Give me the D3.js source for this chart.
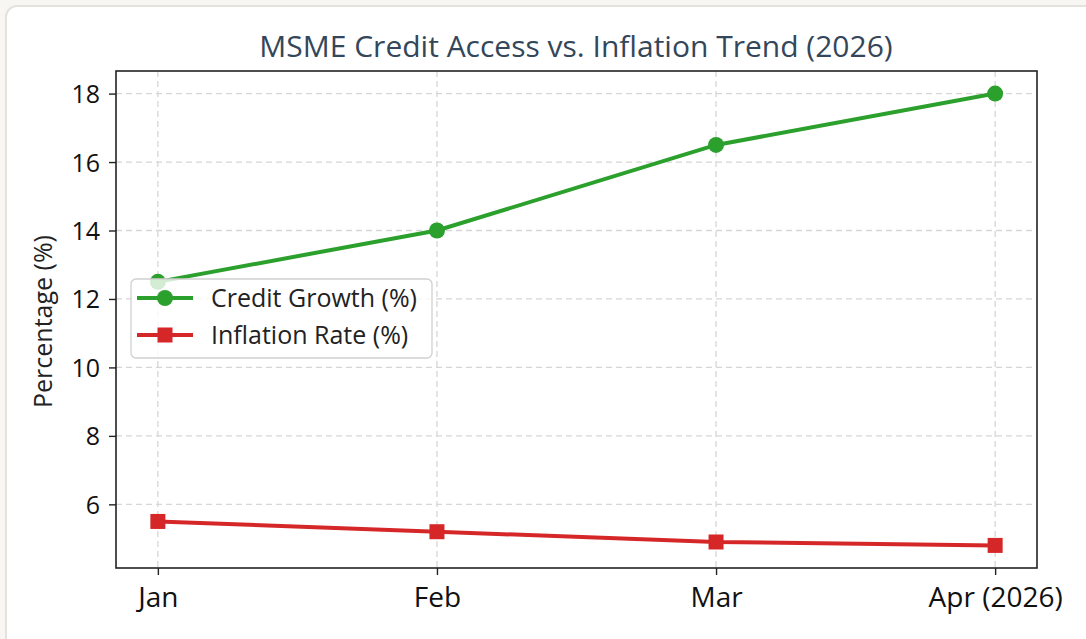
<!DOCTYPE html>
<html>
<head>
<meta charset="utf-8">
<script src="https://cdn.jsdelivr.net/npm/d3@7"></script>
<style>
  html, body { margin: 0; padding: 0; background: #f7f6f2; }
  #wrap { position: absolute; left: 5px; top: 5px; width: 1100px; height: 660px; background: #fff;
          border: 2px solid #e4e2dc; border-radius: 12px; box-sizing: border-box; }
  svg { position: absolute; left: 0; top: 0; }
  text { font-family: "Open Sans", "Noto Sans", sans-serif; }
</style>
</head>
<body>
<div id="wrap"></div>
<svg id="chart" width="1086" height="639"></svg>
<script>
const months = ["Jan", "Feb", "Mar", "Apr (2026)"];
const creditGrowth = [12.5, 14.0, 16.5, 18.0];
const inflationRate = [5.5, 5.2, 4.9, 4.8];
const yTicks = [6, 8, 10, 12, 14, 16, 18];
const seriesNames = ["Credit Growth (%)", "Inflation Rate (%)"];
const titleText = "MSME Credit Access vs. Inflation Trend (2026)";
const yLabelText = "Percentage (%)";

const svg = d3.select("#chart");
const L = 116, R = 1037, T = 71, B = 568;
const green = "#2ca02c", red = "#d62728";

const allVals = creditGrowth.concat(inflationRate);
const ymin = d3.min(allVals), ymax = d3.max(allVals), pad = (ymax - ymin) * 0.05;
const y = d3.scaleLinear().domain([ymin - pad, ymax + pad]).range([B, T]);
const x = d3.scaleLinear().domain([-0.15, months.length - 1 + 0.15]).range([L, R]);

// grid
const g = svg.append("g");
g.selectAll(".gy").data(yTicks).enter().append("line")
  .attr("x1", L).attr("x2", R).attr("y1", d => y(d)).attr("y2", d => y(d))
  .attr("stroke", "#d6d6d6").attr("stroke-width", 1.3).attr("stroke-dasharray", "6,4");
g.selectAll(".gx").data(months).enter().append("line")
  .attr("x1", (d, i) => x(i)).attr("x2", (d, i) => x(i)).attr("y1", T).attr("y2", B)
  .attr("stroke", "#d6d6d6").attr("stroke-width", 1.3).attr("stroke-dasharray", "6,4");

// axes
const yAxis = d3.axisLeft(y).tickValues(yTicks).tickSize(7).tickPadding(9);
const xAxis = d3.axisBottom(x).tickValues(d3.range(months.length)).tickFormat(i => months[i]).tickSize(7);
const ya = svg.append("g").attr("transform", `translate(${L},0)`).call(yAxis);
const xa = svg.append("g").attr("transform", `translate(0,${B})`).call(xAxis);
[ya, xa].forEach(a => {
  a.select(".domain").remove();
  a.selectAll(".tick line").attr("stroke", "#222").attr("stroke-width", 1.4);
  a.selectAll(".tick text").attr("fill", "#111");
});
xa.selectAll(".tick text").attr("y", 39).attr("dy", 0).style("font-size", "28px");
ya.selectAll(".tick text").attr("dy", "0.36em").style("font-size", "25px");

// lines
const line = d3.line().x((d, i) => x(i)).y(d => y(d));
svg.append("path").datum(creditGrowth).attr("d", line).attr("fill", "none")
  .attr("stroke", green).attr("stroke-width", 4);
svg.selectAll(".cg").data(creditGrowth).enter().append("circle")
  .attr("cx", (d, i) => x(i)).attr("cy", d => y(d)).attr("r", 8).attr("fill", green);
svg.append("path").datum(inflationRate).attr("d", line).attr("fill", "none")
  .attr("stroke", red).attr("stroke-width", 4);
svg.selectAll(".ir").data(inflationRate).enter().append("rect")
  .attr("x", (d, i) => x(i) - 7.5).attr("y", d => y(d) - 7.5).attr("width", 15).attr("height", 15).attr("fill", red);

// frame
svg.append("rect").attr("x", L).attr("y", T).attr("width", R - L).attr("height", B - T)
  .attr("fill", "none").attr("stroke", "#222").attr("stroke-width", 1.6);

// legend
const lg = svg.append("g");
lg.append("rect").attr("x", 131).attr("y", 279).attr("width", 301).attr("height", 79).attr("rx", 5)
  .attr("fill", "#fff").attr("fill-opacity", 0.8).attr("stroke", "#d0d0d0").attr("stroke-width", 1.3);
const rows = [{c: green, m: "circle"}, {c: red, m: "rect"}];
rows.forEach((r, i) => {
  const cy = 298 + i * 37;
  lg.append("line").attr("x1", 137).attr("x2", 193).attr("y1", cy).attr("y2", cy)
    .attr("stroke", r.c).attr("stroke-width", 4);
  if (r.m === "circle") lg.append("circle").attr("cx", 165).attr("cy", cy).attr("r", 8).attr("fill", r.c);
  else lg.append("rect").attr("x", 157.5).attr("y", cy - 7.5).attr("width", 15).attr("height", 15).attr("fill", r.c);
  lg.append("text").attr("x", 211).attr("y", cy).attr("dy", "0.36em").attr("fill", "#222")
    .style("font-size", "25px").text(seriesNames[i]);
});

// title & y label
svg.append("text").attr("x", 576).attr("y", 57).attr("text-anchor", "middle")
  .attr("fill", "#34475a").style("font-size", "30px").text(titleText);
svg.append("text").attr("transform", `translate(43,${(T + B) / 2 + 2}) rotate(-90)`).attr("dy", "0.36em")
  .attr("text-anchor", "middle").attr("fill", "#222").style("font-size", "25px").text(yLabelText);
</script>
</body>
</html>
